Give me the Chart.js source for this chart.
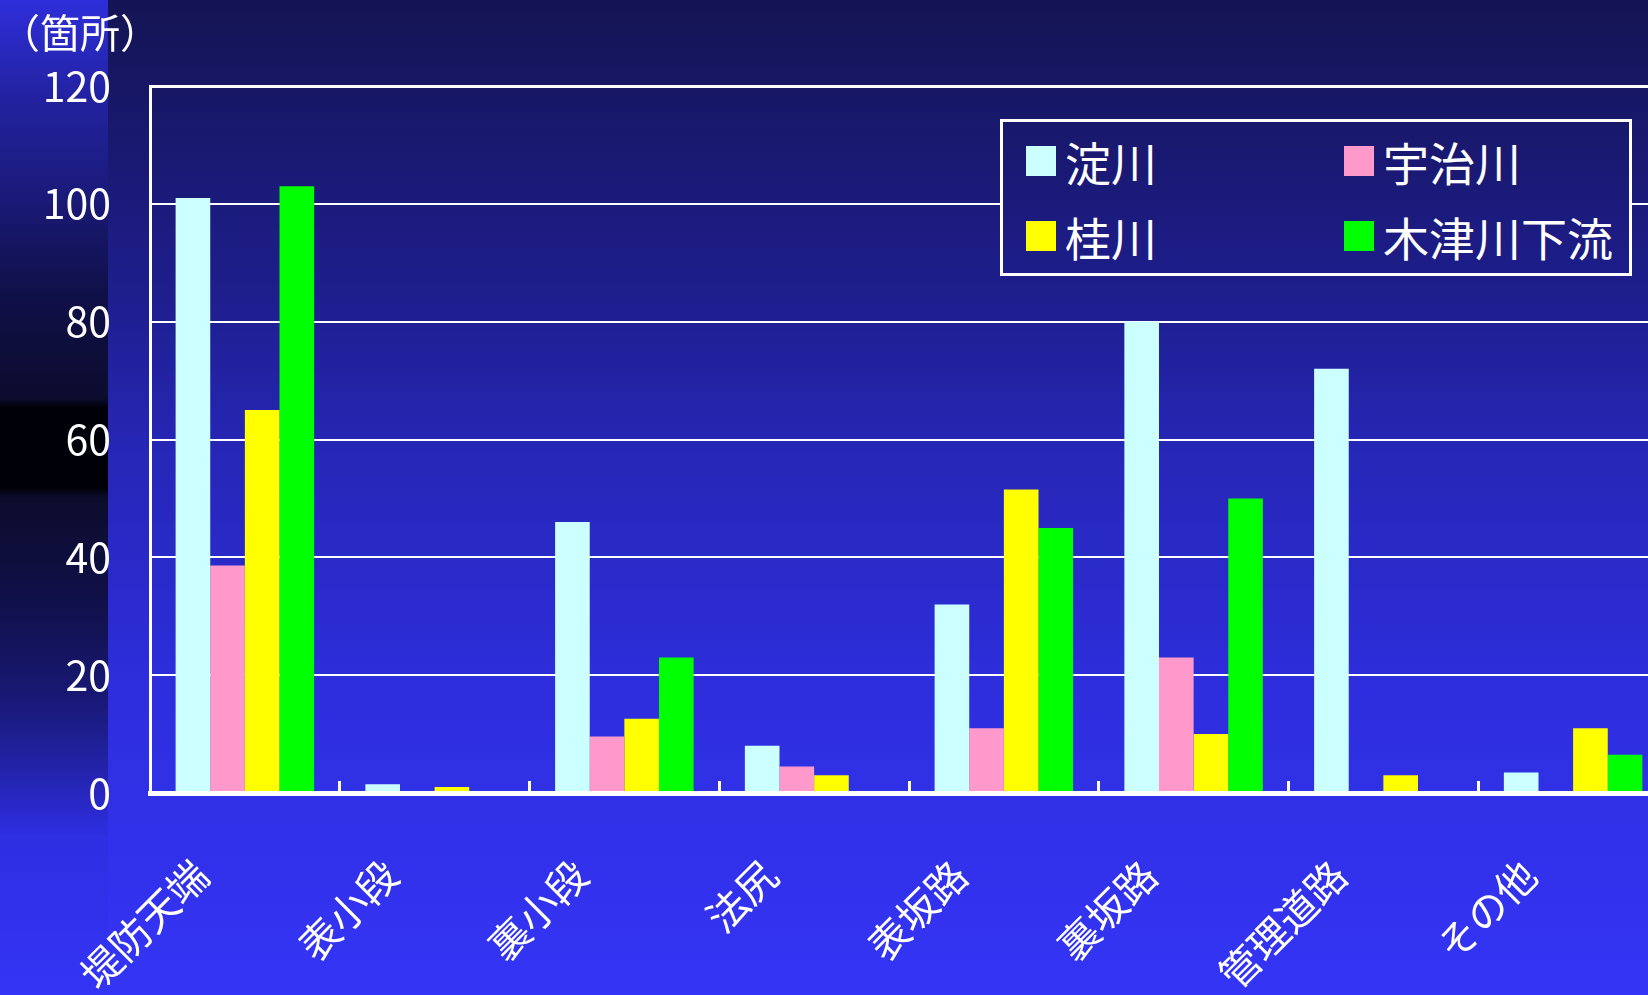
<!DOCTYPE html>
<html lang="ja">
<head>
<meta charset="utf-8">
<script src="https://cdn.jsdelivr.net/npm/chart.js@4"></script>
<style>
  body { margin: 0; overflow: hidden; background: #141454; }
  #wrap { position: relative; width: 1648px; height: 995px; overflow: hidden; }
  #legend {
    position: absolute; left: 1000px; top: 119px; width: 632px; height: 157px;
    box-sizing: border-box; border: 3px solid #fff; padding: 1px 0 0 23px;
    display: grid; grid-template-columns: 318px auto; grid-template-rows: 75px 75px;
    font-family: "Noto Sans CJK JP", sans-serif; font-size: 46px; color: #fff;
  }
  .item { display: flex; align-items: center; line-height: 1; }
  .swatch { width: 30px; height: 30px; margin-right: 9px; flex: none; }
</style>
</head>
<body>
<div id="wrap">
  <canvas id="chart" width="1680" height="995"></canvas>
  <div id="legend"></div>
</div>
<script>
const categories = ['堤防天端', '表小段', '裏小段', '法尻', '表坂路', '裏坂路', '管理道路', 'その他'];
const seriesNames = ['淀川', '宇治川', '桂川', '木津川下流'];
const yodogawa = [101, 1.5, 46, 8, 32, 80, 72, 3.5];
const ujigawa = [38.6, 0, 9.6, 4.5, 11, 23, 0, 0];
const katsuragawa = [65, 1, 12.6, 3, 51.5, 10, 3, 11];
const kizugawa = [103, 0, 23, 0, 45, 50, 0, 6.5];
const yTicks = [0, 20, 40, 60, 80, 100, 120];
const unitLabel = '（箇所）';

const font = '"Noto Sans CJK JP", sans-serif';

// slide background: blue gradient plus the darker strip on the left
const mainStops = [
  [0, [20, 20, 84]],
  [0.3, [30, 30, 142]],
  [0.45, [38, 38, 182]],
  [0.7, [46, 46, 222]],
  [1, [52, 52, 246]],
];
const stripStops = [
  [0, [46, 46, 218]],
  [0.1, [34, 34, 160]],
  [0.2, [26, 26, 120]],
  [0.29, [16, 16, 74]],
  [0.4, [12, 12, 46]],
  [0.41, [0, 0, 8]],
  [0.49, [0, 0, 8]],
  [0.5, [12, 12, 44]],
  [0.6, [16, 16, 72]],
  [0.7, [24, 24, 116]],
  [0.78, [36, 36, 176]],
  [0.84, [46, 46, 226]],
  [1, [52, 52, 246]],
];
const rgb = (c) => `rgb(${c.map(Math.round).join(',')})`;
function colorAt(stops, t) {
  for (let i = 1; i < stops.length; i++) {
    const [t1, c1] = stops[i];
    const [t0, c0] = stops[i - 1];
    if (t <= t1) {
      const f = (t - t0) / (t1 - t0);
      return rgb(c0.map((v, k) => v + (c1[k] - v) * f));
    }
  }
  return rgb(stops[stops.length - 1][1]);
}

const background = {
  id: 'background',
  beforeDraw(chart) {
    const { ctx, width, height } = chart;
    ctx.save();
    const g = ctx.createLinearGradient(0, 0, 0, height);
    mainStops.forEach(([t, c]) => g.addColorStop(t, rgb(c)));
    ctx.fillStyle = g;
    ctx.fillRect(0, 0, width, height);
    const s = ctx.createLinearGradient(0, 0, 0, height);
    stripStops.forEach(([t, c]) => s.addColorStop(t, rgb(c)));
    ctx.fillStyle = s;
    ctx.fillRect(0, 0, 108, height);
    ctx.restore();
  },
};

const chart = new Chart(document.getElementById('chart'), {
  type: 'bar',
  data: {
    labels: categories,
    datasets: [
      { label: seriesNames[0], data: yodogawa, backgroundColor: '#ccffff' },
      { label: seriesNames[1], data: ujigawa, backgroundColor: '#ff99cc' },
      { label: seriesNames[2], data: katsuragawa, backgroundColor: '#ffff00' },
      { label: seriesNames[3], data: kizugawa, backgroundColor: '#00ff00' },
    ],
  },
  options: {
    responsive: false,
    animation: false,
    layout: {
      padding: { left: 0, right: 12, top: 0, bottom: 0 },
    },
    datasets: {
      bar: { barPercentage: 1, categoryPercentage: 0.73, borderWidth: 0 },
    },
    plugins: {
      legend: { display: false },
      tooltip: { enabled: false },
      title: {
        display: true,
        text: unitLabel,
        align: 'start',
        color: '#fff',
        font: { family: font, size: 40, weight: 'normal' },
        padding: { top: 9, bottom: 29 },
      },
    },
    scales: {
      x: {
        grid: { drawOnChartArea: false, drawTicks: true, tickLength: -12, color: '#fff', lineWidth: 3 },
        border: { color: '#fff', width: 5, z: 1 },
        ticks: {
          color: '#fff',
          font: { family: font, size: 40 },
          maxRotation: 45,
          minRotation: 45,
          autoSkip: false,
          padding: 70,
          labelOffset: -44,
        },
        afterFit: (scale) => { scale.height = 202; },
      },
      y: {
        min: 0,
        max: 120,
        afterBuildTicks: (scale) => { scale.ticks = yTicks.map((v) => ({ value: v })); },
        grid: {
          color: '#fff',
          lineWidth: (c) => (c.tick && c.tick.value === 120 ? 3 : 2),
          drawTicks: false,
        },
        border: { color: '#fff', width: 3, z: 1 },
        ticks: { color: '#fff', font: { family: font, size: 41 }, padding: 39 },
        afterFit: (scale) => { scale.width = 150; },
      },
    },
  },
  plugins: [background],
});

// legend in a 2x2 grid, built from the chart's datasets
const legend = document.getElementById('legend');
legend.style.background = `linear-gradient(${colorAt(mainStops, 119 / 995)}, ${colorAt(mainStops, 276 / 995)})`;
chart.data.datasets.forEach((ds) => {
  const item = document.createElement('div');
  item.className = 'item';
  const sw = document.createElement('span');
  sw.className = 'swatch';
  sw.style.background = ds.backgroundColor;
  item.appendChild(sw);
  item.appendChild(document.createTextNode(ds.label));
  legend.appendChild(item);
});
</script>
</body>
</html>
